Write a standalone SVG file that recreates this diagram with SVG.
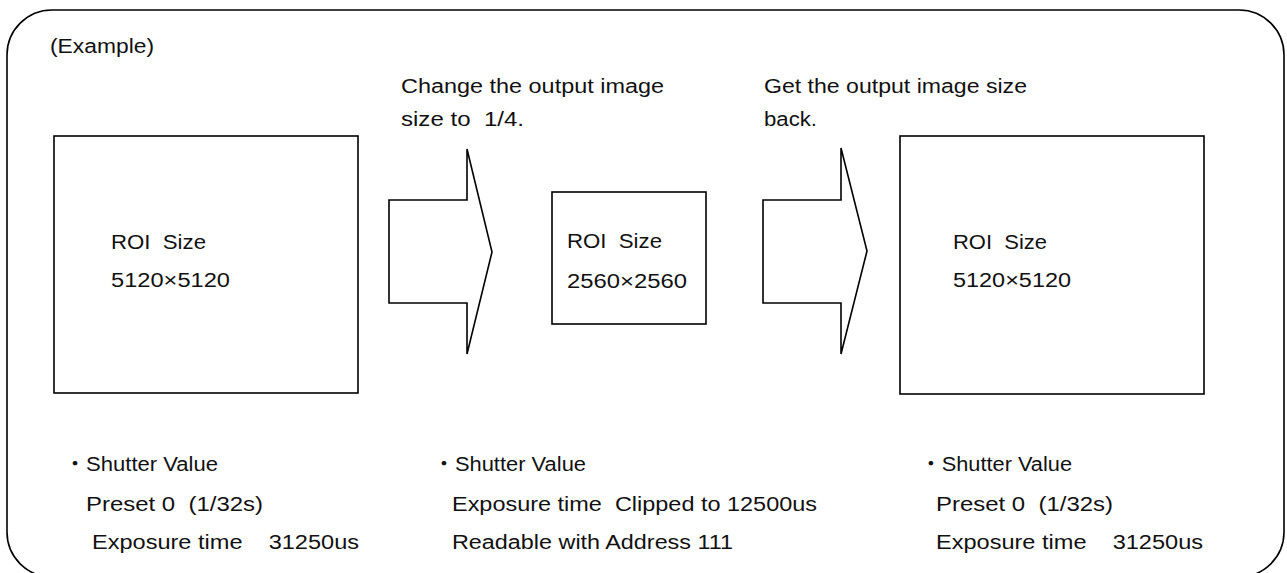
<svg xmlns="http://www.w3.org/2000/svg" width="1287" height="573" viewBox="0 0 1287 573">
<style>
.ln{fill:none;stroke:#000;stroke-width:1.6;stroke-linejoin:miter}
.bx{fill:#fff;stroke:#000;stroke-width:1.6}
text{font-family:"Liberation Sans","Noto Sans CJK JP",sans-serif;font-size:20px;fill:#111;white-space:pre}
</style>
<rect width="1287" height="573" fill="#fff"/>
<g id="frame">
<path class="ln" d="M7,55 A45,45 0 0 1 52,10 L1239,10 A45,45 0 0 1 1284,55 L1284,532 A45,45 0 0 1 1239,577 L52,577 A45,45 0 0 1 7,532 Z"/>
<text x="50" y="53" textLength="104" lengthAdjust="spacingAndGlyphs">(Example)</text>
</g>
<g id="node-full-roi">
<rect class="bx" x="54" y="136" width="304" height="257"/>
<text x="111" y="249" textLength="95" lengthAdjust="spacingAndGlyphs">ROI  Size</text>
<text x="111" y="287" textLength="119" lengthAdjust="spacingAndGlyphs">5120×5120</text>
</g>
<g id="node-quarter-roi">
<rect class="bx" x="552" y="192" width="154" height="132"/>
<text x="567" y="248" textLength="95" lengthAdjust="spacingAndGlyphs">ROI  Size</text>
<text x="567" y="288" textLength="120" lengthAdjust="spacingAndGlyphs">2560×2560</text>
</g>
<g id="node-restored-roi">
<rect class="bx" x="900" y="136" width="304" height="258"/>
<text x="953" y="249" textLength="94" lengthAdjust="spacingAndGlyphs">ROI  Size</text>
<text x="953" y="287" textLength="118" lengthAdjust="spacingAndGlyphs">5120×5120</text>
</g>
<g id="connectors">
<polygon class="ln" points="389,200 467,200 467,149 492,252 467,354 467,303 389,303"/>
<polygon class="ln" points="763,200 841,200 841,148 867,251 841,354 841,303 763,303"/>
<text x="401" y="93" textLength="263" lengthAdjust="spacingAndGlyphs">Change the output image</text>
<text x="401" y="126" textLength="123" lengthAdjust="spacingAndGlyphs">size to  1/4.</text>
<text x="764" y="93" textLength="263" lengthAdjust="spacingAndGlyphs">Get the output image size</text>
<text x="764" y="126" textLength="53" lengthAdjust="spacingAndGlyphs">back.</text>
</g>
<g id="note-left">
<text x="64" y="471" textLength="154" lengthAdjust="spacingAndGlyphs">・Shutter Value</text>
<text x="86" y="511" textLength="177" lengthAdjust="spacingAndGlyphs">Preset 0  (1/32s)</text>
<text x="92" y="549" textLength="267" lengthAdjust="spacingAndGlyphs">Exposure time    31250us</text>
</g>
<g id="note-middle">
<text x="433" y="471" textLength="153" lengthAdjust="spacingAndGlyphs">・Shutter Value</text>
<text x="452" y="511" textLength="365" lengthAdjust="spacingAndGlyphs">Exposure time  Clipped to 12500us</text>
<text x="452" y="549" textLength="281" lengthAdjust="spacingAndGlyphs">Readable with Address 111</text>
</g>
<g id="note-right">
<text x="920" y="471" textLength="152" lengthAdjust="spacingAndGlyphs">・Shutter Value</text>
<text x="936" y="511" textLength="177" lengthAdjust="spacingAndGlyphs">Preset 0  (1/32s)</text>
<text x="936" y="549" textLength="267" lengthAdjust="spacingAndGlyphs">Exposure time    31250us</text>
</g>
</svg>
